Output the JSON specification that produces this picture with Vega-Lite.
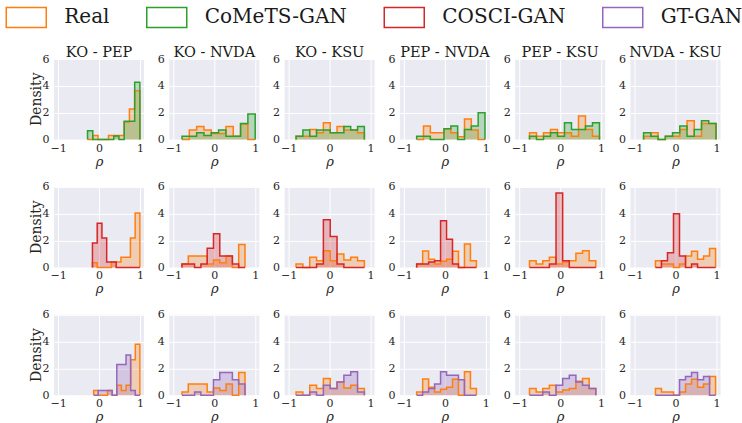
{
"$schema": "https://vega.github.io/schema/vega-lite/v6.json",
"padding": {"left": 15, "top": 6, "right": 0, "bottom": 0},
"background": "white",
"data": {"values": [
{"m":"CoMeTS-GAN","p":"KO - PEP","i":0,"a":-0.28,"b":-0.28,"Real":0,"CoMeTS-GAN":0},
{"m":"CoMeTS-GAN","p":"KO - PEP","i":1,"a":-0.28,"b":-0.152,"Real":0,"CoMeTS-GAN":0.66},
{"m":"CoMeTS-GAN","p":"KO - PEP","i":2,"a":-0.152,"b":-0.024,"Real":0.3,"CoMeTS-GAN":0},
{"m":"CoMeTS-GAN","p":"KO - PEP","i":3,"a":-0.024,"b":0.104,"Real":0,"CoMeTS-GAN":0},
{"m":"CoMeTS-GAN","p":"KO - PEP","i":4,"a":0.104,"b":0.232,"Real":0,"CoMeTS-GAN":0},
{"m":"CoMeTS-GAN","p":"KO - PEP","i":5,"a":0.232,"b":0.36,"Real":0.3,"CoMeTS-GAN":0},
{"m":"CoMeTS-GAN","p":"KO - PEP","i":6,"a":0.36,"b":0.488,"Real":0.3,"CoMeTS-GAN":0.26},
{"m":"CoMeTS-GAN","p":"KO - PEP","i":7,"a":0.488,"b":0.616,"Real":0.3,"CoMeTS-GAN":0},
{"m":"CoMeTS-GAN","p":"KO - PEP","i":8,"a":0.616,"b":0.744,"Real":1.3,"CoMeTS-GAN":1.36},
{"m":"CoMeTS-GAN","p":"KO - PEP","i":9,"a":0.744,"b":0.872,"Real":2.27,"CoMeTS-GAN":1.36},
{"m":"CoMeTS-GAN","p":"KO - PEP","i":10,"a":0.872,"b":1.0,"Real":3.64,"CoMeTS-GAN":4.27},
{"m":"CoMeTS-GAN","p":"KO - PEP","i":11,"a":1.0,"b":1.0,"Real":0,"CoMeTS-GAN":0},

{"m":"CoMeTS-GAN","p":"KO - NVDA","i":0,"a":-0.79,"b":-0.79,"Real":0,"CoMeTS-GAN":0},
{"m":"CoMeTS-GAN","p":"KO - NVDA","i":1,"a":-0.79,"b":-0.611,"Real":0,"CoMeTS-GAN":0.25},
{"m":"CoMeTS-GAN","p":"KO - NVDA","i":2,"a":-0.611,"b":-0.432,"Real":0.7,"CoMeTS-GAN":0.25},
{"m":"CoMeTS-GAN","p":"KO - NVDA","i":3,"a":-0.432,"b":-0.253,"Real":0.96,"CoMeTS-GAN":0.5},
{"m":"CoMeTS-GAN","p":"KO - NVDA","i":4,"a":-0.253,"b":-0.074,"Real":0.7,"CoMeTS-GAN":0.3},
{"m":"CoMeTS-GAN","p":"KO - NVDA","i":5,"a":-0.074,"b":0.105,"Real":0.45,"CoMeTS-GAN":0.5},
{"m":"CoMeTS-GAN","p":"KO - NVDA","i":6,"a":0.105,"b":0.284,"Real":0.45,"CoMeTS-GAN":0.7},
{"m":"CoMeTS-GAN","p":"KO - NVDA","i":7,"a":0.284,"b":0.463,"Real":0.96,"CoMeTS-GAN":0.25},
{"m":"CoMeTS-GAN","p":"KO - NVDA","i":8,"a":0.463,"b":0.642,"Real":0.25,"CoMeTS-GAN":0.25},
{"m":"CoMeTS-GAN","p":"KO - NVDA","i":9,"a":0.642,"b":0.821,"Real":1.15,"CoMeTS-GAN":1.2},
{"m":"CoMeTS-GAN","p":"KO - NVDA","i":10,"a":0.821,"b":1.0,"Real":0,"CoMeTS-GAN":1.9},
{"m":"CoMeTS-GAN","p":"KO - NVDA","i":11,"a":1.0,"b":1.0,"Real":0,"CoMeTS-GAN":0},

{"m":"CoMeTS-GAN","p":"KO - KSU","i":0,"a":-0.82,"b":-0.82,"Real":0,"CoMeTS-GAN":0},
{"m":"CoMeTS-GAN","p":"KO - KSU","i":1,"a":-0.82,"b":-0.653,"Real":0.25,"CoMeTS-GAN":0.25},
{"m":"CoMeTS-GAN","p":"KO - KSU","i":2,"a":-0.653,"b":-0.486,"Real":0.25,"CoMeTS-GAN":0.7},
{"m":"CoMeTS-GAN","p":"KO - KSU","i":3,"a":-0.486,"b":-0.319,"Real":0.75,"CoMeTS-GAN":0.25},
{"m":"CoMeTS-GAN","p":"KO - KSU","i":4,"a":-0.319,"b":-0.152,"Real":0.5,"CoMeTS-GAN":0.7},
{"m":"CoMeTS-GAN","p":"KO - KSU","i":5,"a":-0.152,"b":0.015,"Real":1.25,"CoMeTS-GAN":0.7},
{"m":"CoMeTS-GAN","p":"KO - KSU","i":6,"a":0.015,"b":0.182,"Real":0.5,"CoMeTS-GAN":0.5},
{"m":"CoMeTS-GAN","p":"KO - KSU","i":7,"a":0.182,"b":0.349,"Real":0.96,"CoMeTS-GAN":0.5},
{"m":"CoMeTS-GAN","p":"KO - KSU","i":8,"a":0.349,"b":0.516,"Real":0.7,"CoMeTS-GAN":0.96},
{"m":"CoMeTS-GAN","p":"KO - KSU","i":9,"a":0.516,"b":0.683,"Real":0.7,"CoMeTS-GAN":0.7},
{"m":"CoMeTS-GAN","p":"KO - KSU","i":10,"a":0.683,"b":0.85,"Real":0.5,"CoMeTS-GAN":0.96},
{"m":"CoMeTS-GAN","p":"KO - KSU","i":11,"a":0.85,"b":0.85,"Real":0,"CoMeTS-GAN":0},

{"m":"CoMeTS-GAN","p":"PEP - NVDA","i":0,"a":-0.69,"b":-0.69,"Real":0,"CoMeTS-GAN":0},
{"m":"CoMeTS-GAN","p":"PEP - NVDA","i":1,"a":-0.69,"b":-0.523,"Real":0,"CoMeTS-GAN":0.25},
{"m":"CoMeTS-GAN","p":"PEP - NVDA","i":2,"a":-0.523,"b":-0.356,"Real":1.0,"CoMeTS-GAN":0.25},
{"m":"CoMeTS-GAN","p":"PEP - NVDA","i":3,"a":-0.356,"b":-0.189,"Real":0.5,"CoMeTS-GAN":0},
{"m":"CoMeTS-GAN","p":"PEP - NVDA","i":4,"a":-0.189,"b":-0.022,"Real":0.5,"CoMeTS-GAN":0},
{"m":"CoMeTS-GAN","p":"PEP - NVDA","i":5,"a":-0.022,"b":0.145,"Real":0.8,"CoMeTS-GAN":0.8},
{"m":"CoMeTS-GAN","p":"PEP - NVDA","i":6,"a":0.145,"b":0.312,"Real":0.5,"CoMeTS-GAN":1.0},
{"m":"CoMeTS-GAN","p":"PEP - NVDA","i":7,"a":0.312,"b":0.479,"Real":0.2,"CoMeTS-GAN":0},
{"m":"CoMeTS-GAN","p":"PEP - NVDA","i":8,"a":0.479,"b":0.646,"Real":1.52,"CoMeTS-GAN":0.75},
{"m":"CoMeTS-GAN","p":"PEP - NVDA","i":9,"a":0.646,"b":0.813,"Real":0.7,"CoMeTS-GAN":1.0},
{"m":"CoMeTS-GAN","p":"PEP - NVDA","i":10,"a":0.813,"b":0.98,"Real":0,"CoMeTS-GAN":2.0},
{"m":"CoMeTS-GAN","p":"PEP - NVDA","i":11,"a":0.98,"b":0.98,"Real":0,"CoMeTS-GAN":0},

{"m":"CoMeTS-GAN","p":"PEP - KSU","i":0,"a":-0.75,"b":-0.75,"Real":0,"CoMeTS-GAN":0},
{"m":"CoMeTS-GAN","p":"PEP - KSU","i":1,"a":-0.75,"b":-0.579,"Real":0.5,"CoMeTS-GAN":0.25},
{"m":"CoMeTS-GAN","p":"PEP - KSU","i":2,"a":-0.579,"b":-0.408,"Real":0.25,"CoMeTS-GAN":0},
{"m":"CoMeTS-GAN","p":"PEP - KSU","i":3,"a":-0.408,"b":-0.237,"Real":0.5,"CoMeTS-GAN":0.25},
{"m":"CoMeTS-GAN","p":"PEP - KSU","i":4,"a":-0.237,"b":-0.066,"Real":0.75,"CoMeTS-GAN":0.5},
{"m":"CoMeTS-GAN","p":"PEP - KSU","i":5,"a":-0.066,"b":0.105,"Real":0.5,"CoMeTS-GAN":0.25},
{"m":"CoMeTS-GAN","p":"PEP - KSU","i":6,"a":0.105,"b":0.276,"Real":0.5,"CoMeTS-GAN":1.25},
{"m":"CoMeTS-GAN","p":"PEP - KSU","i":7,"a":0.276,"b":0.447,"Real":0.25,"CoMeTS-GAN":0.75},
{"m":"CoMeTS-GAN","p":"PEP - KSU","i":8,"a":0.447,"b":0.618,"Real":1.75,"CoMeTS-GAN":0.75},
{"m":"CoMeTS-GAN","p":"PEP - KSU","i":9,"a":0.618,"b":0.789,"Real":0.75,"CoMeTS-GAN":1.0},
{"m":"CoMeTS-GAN","p":"PEP - KSU","i":10,"a":0.789,"b":0.96,"Real":0.25,"CoMeTS-GAN":1.25},
{"m":"CoMeTS-GAN","p":"PEP - KSU","i":11,"a":0.96,"b":0.96,"Real":0,"CoMeTS-GAN":0},

{"m":"CoMeTS-GAN","p":"NVDA - KSU","i":0,"a":-0.78,"b":-0.78,"Real":0,"CoMeTS-GAN":0},
{"m":"CoMeTS-GAN","p":"NVDA - KSU","i":1,"a":-0.78,"b":-0.603,"Real":0.25,"CoMeTS-GAN":0.5},
{"m":"CoMeTS-GAN","p":"NVDA - KSU","i":2,"a":-0.603,"b":-0.426,"Real":0.5,"CoMeTS-GAN":0.25},
{"m":"CoMeTS-GAN","p":"NVDA - KSU","i":3,"a":-0.426,"b":-0.249,"Real":0,"CoMeTS-GAN":0},
{"m":"CoMeTS-GAN","p":"NVDA - KSU","i":4,"a":-0.249,"b":-0.072,"Real":0.25,"CoMeTS-GAN":0.25},
{"m":"CoMeTS-GAN","p":"NVDA - KSU","i":5,"a":-0.072,"b":0.105,"Real":0.25,"CoMeTS-GAN":0.5},
{"m":"CoMeTS-GAN","p":"NVDA - KSU","i":6,"a":0.105,"b":0.282,"Real":0.75,"CoMeTS-GAN":1.0},
{"m":"CoMeTS-GAN","p":"NVDA - KSU","i":7,"a":0.282,"b":0.459,"Real":1.4,"CoMeTS-GAN":0.25},
{"m":"CoMeTS-GAN","p":"NVDA - KSU","i":8,"a":0.459,"b":0.636,"Real":0.25,"CoMeTS-GAN":0.75},
{"m":"CoMeTS-GAN","p":"NVDA - KSU","i":9,"a":0.636,"b":0.813,"Real":1.2,"CoMeTS-GAN":1.4},
{"m":"CoMeTS-GAN","p":"NVDA - KSU","i":10,"a":0.813,"b":0.99,"Real":1.2,"CoMeTS-GAN":1.2},
{"m":"CoMeTS-GAN","p":"NVDA - KSU","i":11,"a":0.99,"b":0.99,"Real":0,"CoMeTS-GAN":0},

{"m":"COSCI-GAN","p":"KO - PEP","i":0,"a":-0.16,"b":-0.16,"Real":0,"COSCI-GAN":0},
{"m":"COSCI-GAN","p":"KO - PEP","i":1,"a":-0.16,"b":-0.044,"Real":0.35,"COSCI-GAN":1.82},
{"m":"COSCI-GAN","p":"KO - PEP","i":2,"a":-0.044,"b":0.072,"Real":0,"COSCI-GAN":3.3},
{"m":"COSCI-GAN","p":"KO - PEP","i":3,"a":0.072,"b":0.188,"Real":0,"COSCI-GAN":2.2},
{"m":"COSCI-GAN","p":"KO - PEP","i":4,"a":0.188,"b":0.304,"Real":0,"COSCI-GAN":0.4},
{"m":"COSCI-GAN","p":"KO - PEP","i":5,"a":0.304,"b":0.42,"Real":0.4,"COSCI-GAN":0.4},
{"m":"COSCI-GAN","p":"KO - PEP","i":6,"a":0.42,"b":0.536,"Real":0.4,"COSCI-GAN":0},
{"m":"COSCI-GAN","p":"KO - PEP","i":7,"a":0.536,"b":0.652,"Real":0.75,"COSCI-GAN":0},
{"m":"COSCI-GAN","p":"KO - PEP","i":8,"a":0.652,"b":0.768,"Real":0.75,"COSCI-GAN":0},
{"m":"COSCI-GAN","p":"KO - PEP","i":9,"a":0.768,"b":0.884,"Real":2.2,"COSCI-GAN":0},
{"m":"COSCI-GAN","p":"KO - PEP","i":10,"a":0.884,"b":1.0,"Real":4.05,"COSCI-GAN":0},
{"m":"COSCI-GAN","p":"KO - PEP","i":11,"a":1.0,"b":1.0,"Real":0,"COSCI-GAN":0},

{"m":"COSCI-GAN","p":"KO - NVDA","i":0,"a":-0.79,"b":-0.79,"Real":0,"COSCI-GAN":0},
{"m":"COSCI-GAN","p":"KO - NVDA","i":1,"a":-0.79,"b":-0.636,"Real":0.25,"COSCI-GAN":0.25},
{"m":"COSCI-GAN","p":"KO - NVDA","i":2,"a":-0.636,"b":-0.482,"Real":0.85,"COSCI-GAN":0.25},
{"m":"COSCI-GAN","p":"KO - NVDA","i":3,"a":-0.482,"b":-0.328,"Real":0.85,"COSCI-GAN":0},
{"m":"COSCI-GAN","p":"KO - NVDA","i":4,"a":-0.328,"b":-0.174,"Real":0.85,"COSCI-GAN":0.25},
{"m":"COSCI-GAN","p":"KO - NVDA","i":5,"a":-0.174,"b":-0.02,"Real":0.25,"COSCI-GAN":1.42},
{"m":"COSCI-GAN","p":"KO - NVDA","i":6,"a":-0.02,"b":0.134,"Real":0.55,"COSCI-GAN":2.5},
{"m":"COSCI-GAN","p":"KO - NVDA","i":7,"a":0.134,"b":0.288,"Real":0.35,"COSCI-GAN":0.85},
{"m":"COSCI-GAN","p":"KO - NVDA","i":8,"a":0.288,"b":0.442,"Real":0.85,"COSCI-GAN":0.85},
{"m":"COSCI-GAN","p":"KO - NVDA","i":9,"a":0.442,"b":0.596,"Real":0,"COSCI-GAN":0.25},
{"m":"COSCI-GAN","p":"KO - NVDA","i":10,"a":0.596,"b":0.75,"Real":1.7,"COSCI-GAN":0},
{"m":"COSCI-GAN","p":"KO - NVDA","i":11,"a":0.75,"b":0.75,"Real":0,"COSCI-GAN":0},

{"m":"COSCI-GAN","p":"KO - KSU","i":0,"a":-0.82,"b":-0.82,"Real":0,"COSCI-GAN":0},
{"m":"COSCI-GAN","p":"KO - KSU","i":1,"a":-0.82,"b":-0.653,"Real":0.25,"COSCI-GAN":0},
{"m":"COSCI-GAN","p":"KO - KSU","i":2,"a":-0.653,"b":-0.486,"Real":0,"COSCI-GAN":0},
{"m":"COSCI-GAN","p":"KO - KSU","i":3,"a":-0.486,"b":-0.319,"Real":0.75,"COSCI-GAN":0},
{"m":"COSCI-GAN","p":"KO - KSU","i":4,"a":-0.319,"b":-0.152,"Real":0.5,"COSCI-GAN":0.25},
{"m":"COSCI-GAN","p":"KO - KSU","i":5,"a":-0.152,"b":0.015,"Real":1.25,"COSCI-GAN":3.56},
{"m":"COSCI-GAN","p":"KO - KSU","i":6,"a":0.015,"b":0.182,"Real":0.5,"COSCI-GAN":2.3},
{"m":"COSCI-GAN","p":"KO - KSU","i":7,"a":0.182,"b":0.349,"Real":1.0,"COSCI-GAN":0.25},
{"m":"COSCI-GAN","p":"KO - KSU","i":8,"a":0.349,"b":0.516,"Real":0.55,"COSCI-GAN":0},
{"m":"COSCI-GAN","p":"KO - KSU","i":9,"a":0.516,"b":0.683,"Real":0.75,"COSCI-GAN":0},
{"m":"COSCI-GAN","p":"KO - KSU","i":10,"a":0.683,"b":0.85,"Real":0.5,"COSCI-GAN":0},
{"m":"COSCI-GAN","p":"KO - KSU","i":11,"a":0.85,"b":0.85,"Real":0,"COSCI-GAN":0},

{"m":"COSCI-GAN","p":"PEP - NVDA","i":0,"a":-0.69,"b":-0.69,"Real":0,"COSCI-GAN":0},
{"m":"COSCI-GAN","p":"PEP - NVDA","i":1,"a":-0.69,"b":-0.544,"Real":0.25,"COSCI-GAN":0.25},
{"m":"COSCI-GAN","p":"PEP - NVDA","i":2,"a":-0.544,"b":-0.398,"Real":1.22,"COSCI-GAN":0.25},
{"m":"COSCI-GAN","p":"PEP - NVDA","i":3,"a":-0.398,"b":-0.252,"Real":0.6,"COSCI-GAN":0.4},
{"m":"COSCI-GAN","p":"PEP - NVDA","i":4,"a":-0.252,"b":-0.106,"Real":0.25,"COSCI-GAN":0.5},
{"m":"COSCI-GAN","p":"PEP - NVDA","i":5,"a":-0.106,"b":0.04,"Real":0.45,"COSCI-GAN":3.48},
{"m":"COSCI-GAN","p":"PEP - NVDA","i":6,"a":0.04,"b":0.186,"Real":0.6,"COSCI-GAN":2.1},
{"m":"COSCI-GAN","p":"PEP - NVDA","i":7,"a":0.186,"b":0.332,"Real":1.2,"COSCI-GAN":0.25},
{"m":"COSCI-GAN","p":"PEP - NVDA","i":8,"a":0.332,"b":0.478,"Real":0,"COSCI-GAN":0},
{"m":"COSCI-GAN","p":"PEP - NVDA","i":9,"a":0.478,"b":0.624,"Real":1.75,"COSCI-GAN":0},
{"m":"COSCI-GAN","p":"PEP - NVDA","i":10,"a":0.624,"b":0.77,"Real":0.5,"COSCI-GAN":0},
{"m":"COSCI-GAN","p":"PEP - NVDA","i":11,"a":0.77,"b":0.77,"Real":0,"COSCI-GAN":0},

{"m":"COSCI-GAN","p":"PEP - KSU","i":0,"a":-0.75,"b":-0.75,"Real":0,"COSCI-GAN":0},
{"m":"COSCI-GAN","p":"PEP - KSU","i":1,"a":-0.75,"b":-0.588,"Real":0.5,"COSCI-GAN":0},
{"m":"COSCI-GAN","p":"PEP - KSU","i":2,"a":-0.588,"b":-0.426,"Real":0.25,"COSCI-GAN":0},
{"m":"COSCI-GAN","p":"PEP - KSU","i":3,"a":-0.426,"b":-0.264,"Real":0.5,"COSCI-GAN":0},
{"m":"COSCI-GAN","p":"PEP - KSU","i":4,"a":-0.264,"b":-0.102,"Real":0.75,"COSCI-GAN":0.25},
{"m":"COSCI-GAN","p":"PEP - KSU","i":5,"a":-0.102,"b":0.06,"Real":0.25,"COSCI-GAN":5.55},
{"m":"COSCI-GAN","p":"PEP - KSU","i":6,"a":0.06,"b":0.222,"Real":0.4,"COSCI-GAN":0.5},
{"m":"COSCI-GAN","p":"PEP - KSU","i":7,"a":0.222,"b":0.384,"Real":0.5,"COSCI-GAN":0},
{"m":"COSCI-GAN","p":"PEP - KSU","i":8,"a":0.384,"b":0.546,"Real":1.05,"COSCI-GAN":0},
{"m":"COSCI-GAN","p":"PEP - KSU","i":9,"a":0.546,"b":0.708,"Real":1.25,"COSCI-GAN":0},
{"m":"COSCI-GAN","p":"PEP - KSU","i":10,"a":0.708,"b":0.87,"Real":0.5,"COSCI-GAN":0},
{"m":"COSCI-GAN","p":"PEP - KSU","i":11,"a":0.87,"b":0.87,"Real":0,"COSCI-GAN":0},

{"m":"COSCI-GAN","p":"NVDA - KSU","i":0,"a":-0.49,"b":-0.49,"Real":0,"COSCI-GAN":0},
{"m":"COSCI-GAN","p":"NVDA - KSU","i":1,"a":-0.49,"b":-0.343,"Real":0.5,"COSCI-GAN":0},
{"m":"COSCI-GAN","p":"NVDA - KSU","i":2,"a":-0.343,"b":-0.196,"Real":0.25,"COSCI-GAN":0.5},
{"m":"COSCI-GAN","p":"NVDA - KSU","i":3,"a":-0.196,"b":-0.049,"Real":0.25,"COSCI-GAN":1.1},
{"m":"COSCI-GAN","p":"NVDA - KSU","i":4,"a":-0.049,"b":0.098,"Real":0,"COSCI-GAN":4.0},
{"m":"COSCI-GAN","p":"NVDA - KSU","i":5,"a":0.098,"b":0.245,"Real":0.25,"COSCI-GAN":0.85},
{"m":"COSCI-GAN","p":"NVDA - KSU","i":6,"a":0.245,"b":0.392,"Real":0.85,"COSCI-GAN":0},
{"m":"COSCI-GAN","p":"NVDA - KSU","i":7,"a":0.392,"b":0.539,"Real":1.2,"COSCI-GAN":0.25},
{"m":"COSCI-GAN","p":"NVDA - KSU","i":8,"a":0.539,"b":0.686,"Real":0.6,"COSCI-GAN":0},
{"m":"COSCI-GAN","p":"NVDA - KSU","i":9,"a":0.686,"b":0.833,"Real":0.85,"COSCI-GAN":0},
{"m":"COSCI-GAN","p":"NVDA - KSU","i":10,"a":0.833,"b":0.98,"Real":1.4,"COSCI-GAN":0},
{"m":"COSCI-GAN","p":"NVDA - KSU","i":11,"a":0.98,"b":0.98,"Real":0,"COSCI-GAN":0},

{"m":"GT-GAN","p":"KO - PEP","i":0,"a":-0.13,"b":-0.13,"Real":0,"GT-GAN":0},
{"m":"GT-GAN","p":"KO - PEP","i":1,"a":-0.13,"b":-0.017,"Real":0.35,"GT-GAN":0},
{"m":"GT-GAN","p":"KO - PEP","i":2,"a":-0.017,"b":0.096,"Real":0,"GT-GAN":0.35},
{"m":"GT-GAN","p":"KO - PEP","i":3,"a":0.096,"b":0.209,"Real":0,"GT-GAN":0.35},
{"m":"GT-GAN","p":"KO - PEP","i":4,"a":0.209,"b":0.322,"Real":0.35,"GT-GAN":0.35},
{"m":"GT-GAN","p":"KO - PEP","i":5,"a":0.322,"b":0.435,"Real":0,"GT-GAN":0},
{"m":"GT-GAN","p":"KO - PEP","i":6,"a":0.435,"b":0.548,"Real":0.75,"GT-GAN":2.3},
{"m":"GT-GAN","p":"KO - PEP","i":7,"a":0.548,"b":0.661,"Real":0.35,"GT-GAN":2.3},
{"m":"GT-GAN","p":"KO - PEP","i":8,"a":0.661,"b":0.774,"Real":0.75,"GT-GAN":3.0},
{"m":"GT-GAN","p":"KO - PEP","i":9,"a":0.774,"b":0.887,"Real":2.65,"GT-GAN":0.35},
{"m":"GT-GAN","p":"KO - PEP","i":10,"a":0.887,"b":1.0,"Real":3.8,"GT-GAN":0},
{"m":"GT-GAN","p":"KO - PEP","i":11,"a":1.0,"b":1.0,"Real":0,"GT-GAN":0},

{"m":"GT-GAN","p":"KO - NVDA","i":0,"a":-0.79,"b":-0.79,"Real":0,"GT-GAN":0},
{"m":"GT-GAN","p":"KO - NVDA","i":1,"a":-0.79,"b":-0.636,"Real":0.25,"GT-GAN":0},
{"m":"GT-GAN","p":"KO - NVDA","i":2,"a":-0.636,"b":-0.482,"Real":0.85,"GT-GAN":0},
{"m":"GT-GAN","p":"KO - NVDA","i":3,"a":-0.482,"b":-0.328,"Real":0.85,"GT-GAN":0.25},
{"m":"GT-GAN","p":"KO - NVDA","i":4,"a":-0.328,"b":-0.174,"Real":0.85,"GT-GAN":0},
{"m":"GT-GAN","p":"KO - NVDA","i":5,"a":-0.174,"b":-0.02,"Real":0.25,"GT-GAN":0},
{"m":"GT-GAN","p":"KO - NVDA","i":6,"a":-0.02,"b":0.134,"Real":0.55,"GT-GAN":1.15},
{"m":"GT-GAN","p":"KO - NVDA","i":7,"a":0.134,"b":0.288,"Real":0.35,"GT-GAN":1.7},
{"m":"GT-GAN","p":"KO - NVDA","i":8,"a":0.288,"b":0.442,"Real":0.85,"GT-GAN":1.7},
{"m":"GT-GAN","p":"KO - NVDA","i":9,"a":0.442,"b":0.596,"Real":0,"GT-GAN":1.15},
{"m":"GT-GAN","p":"KO - NVDA","i":10,"a":0.596,"b":0.75,"Real":1.7,"GT-GAN":0.85},
{"m":"GT-GAN","p":"KO - NVDA","i":11,"a":0.75,"b":0.75,"Real":0,"GT-GAN":0},

{"m":"GT-GAN","p":"KO - KSU","i":0,"a":-0.82,"b":-0.82,"Real":0,"GT-GAN":0},
{"m":"GT-GAN","p":"KO - KSU","i":1,"a":-0.82,"b":-0.653,"Real":0.25,"GT-GAN":0},
{"m":"GT-GAN","p":"KO - KSU","i":2,"a":-0.653,"b":-0.486,"Real":0,"GT-GAN":0},
{"m":"GT-GAN","p":"KO - KSU","i":3,"a":-0.486,"b":-0.319,"Real":0.75,"GT-GAN":0.25},
{"m":"GT-GAN","p":"KO - KSU","i":4,"a":-0.319,"b":-0.152,"Real":0.5,"GT-GAN":0},
{"m":"GT-GAN","p":"KO - KSU","i":5,"a":-0.152,"b":0.015,"Real":1.25,"GT-GAN":0.75},
{"m":"GT-GAN","p":"KO - KSU","i":6,"a":0.015,"b":0.182,"Real":0.5,"GT-GAN":0.5},
{"m":"GT-GAN","p":"KO - KSU","i":7,"a":0.182,"b":0.349,"Real":1.0,"GT-GAN":1.0},
{"m":"GT-GAN","p":"KO - KSU","i":8,"a":0.349,"b":0.516,"Real":0.55,"GT-GAN":1.5},
{"m":"GT-GAN","p":"KO - KSU","i":9,"a":0.516,"b":0.683,"Real":0.75,"GT-GAN":1.75},
{"m":"GT-GAN","p":"KO - KSU","i":10,"a":0.683,"b":0.85,"Real":0.5,"GT-GAN":0.25},
{"m":"GT-GAN","p":"KO - KSU","i":11,"a":0.85,"b":0.85,"Real":0,"GT-GAN":0},

{"m":"GT-GAN","p":"PEP - NVDA","i":0,"a":-0.69,"b":-0.69,"Real":0,"GT-GAN":0},
{"m":"GT-GAN","p":"PEP - NVDA","i":1,"a":-0.69,"b":-0.544,"Real":0.25,"GT-GAN":0},
{"m":"GT-GAN","p":"PEP - NVDA","i":2,"a":-0.544,"b":-0.398,"Real":1.22,"GT-GAN":0.25},
{"m":"GT-GAN","p":"PEP - NVDA","i":3,"a":-0.398,"b":-0.252,"Real":0.6,"GT-GAN":0.5},
{"m":"GT-GAN","p":"PEP - NVDA","i":4,"a":-0.252,"b":-0.106,"Real":0.25,"GT-GAN":0.85},
{"m":"GT-GAN","p":"PEP - NVDA","i":5,"a":-0.106,"b":0.04,"Real":0.45,"GT-GAN":1.75},
{"m":"GT-GAN","p":"PEP - NVDA","i":6,"a":0.04,"b":0.186,"Real":0.6,"GT-GAN":1.5},
{"m":"GT-GAN","p":"PEP - NVDA","i":7,"a":0.186,"b":0.332,"Real":1.2,"GT-GAN":1.5},
{"m":"GT-GAN","p":"PEP - NVDA","i":8,"a":0.332,"b":0.478,"Real":0,"GT-GAN":1.15},
{"m":"GT-GAN","p":"PEP - NVDA","i":9,"a":0.478,"b":0.624,"Real":1.75,"GT-GAN":0},
{"m":"GT-GAN","p":"PEP - NVDA","i":10,"a":0.624,"b":0.77,"Real":0.5,"GT-GAN":0},
{"m":"GT-GAN","p":"PEP - NVDA","i":11,"a":0.77,"b":0.77,"Real":0,"GT-GAN":0},

{"m":"GT-GAN","p":"PEP - KSU","i":0,"a":-0.75,"b":-0.75,"Real":0,"GT-GAN":0},
{"m":"GT-GAN","p":"PEP - KSU","i":1,"a":-0.75,"b":-0.588,"Real":0.5,"GT-GAN":0},
{"m":"GT-GAN","p":"PEP - KSU","i":2,"a":-0.588,"b":-0.426,"Real":0.25,"GT-GAN":0},
{"m":"GT-GAN","p":"PEP - KSU","i":3,"a":-0.426,"b":-0.264,"Real":0.5,"GT-GAN":0.25},
{"m":"GT-GAN","p":"PEP - KSU","i":4,"a":-0.264,"b":-0.102,"Real":0.75,"GT-GAN":0},
{"m":"GT-GAN","p":"PEP - KSU","i":5,"a":-0.102,"b":0.06,"Real":0.25,"GT-GAN":0.75},
{"m":"GT-GAN","p":"PEP - KSU","i":6,"a":0.06,"b":0.222,"Real":0.4,"GT-GAN":1.25},
{"m":"GT-GAN","p":"PEP - KSU","i":7,"a":0.222,"b":0.384,"Real":0.5,"GT-GAN":1.5},
{"m":"GT-GAN","p":"PEP - KSU","i":8,"a":0.384,"b":0.546,"Real":1.05,"GT-GAN":1.0},
{"m":"GT-GAN","p":"PEP - KSU","i":9,"a":0.546,"b":0.708,"Real":1.25,"GT-GAN":0.75},
{"m":"GT-GAN","p":"PEP - KSU","i":10,"a":0.708,"b":0.87,"Real":0.5,"GT-GAN":0.5},
{"m":"GT-GAN","p":"PEP - KSU","i":11,"a":0.87,"b":0.87,"Real":0,"GT-GAN":0},

{"m":"GT-GAN","p":"NVDA - KSU","i":0,"a":-0.49,"b":-0.49,"Real":0,"GT-GAN":0},
{"m":"GT-GAN","p":"NVDA - KSU","i":1,"a":-0.49,"b":-0.343,"Real":0.5,"GT-GAN":0},
{"m":"GT-GAN","p":"NVDA - KSU","i":2,"a":-0.343,"b":-0.196,"Real":0.25,"GT-GAN":0},
{"m":"GT-GAN","p":"NVDA - KSU","i":3,"a":-0.196,"b":-0.049,"Real":0.25,"GT-GAN":0},
{"m":"GT-GAN","p":"NVDA - KSU","i":4,"a":-0.049,"b":0.098,"Real":0,"GT-GAN":0},
{"m":"GT-GAN","p":"NVDA - KSU","i":5,"a":0.098,"b":0.245,"Real":0.25,"GT-GAN":1.15},
{"m":"GT-GAN","p":"NVDA - KSU","i":6,"a":0.245,"b":0.392,"Real":0.85,"GT-GAN":1.4},
{"m":"GT-GAN","p":"NVDA - KSU","i":7,"a":0.392,"b":0.539,"Real":1.2,"GT-GAN":1.7},
{"m":"GT-GAN","p":"NVDA - KSU","i":8,"a":0.539,"b":0.686,"Real":0.6,"GT-GAN":1.15},
{"m":"GT-GAN","p":"NVDA - KSU","i":9,"a":0.686,"b":0.833,"Real":0.85,"GT-GAN":1.4},
{"m":"GT-GAN","p":"NVDA - KSU","i":10,"a":0.833,"b":0.98,"Real":1.4,"GT-GAN":0},
{"m":"GT-GAN","p":"NVDA - KSU","i":11,"a":0.98,"b":0.98,"Real":0,"GT-GAN":0}
]},
"transform": [
{"fold": ["Real", "CoMeTS-GAN", "COSCI-GAN", "GT-GAN"], "as": ["s", "d"]},
{"filter": "isValid(datum.d)"},
{"fold": ["a", "b"], "as": ["k", "x"]}
],
"bounds": "flush",
"facet": {
"row": {"field": "m", "type": "nominal", "sort": ["CoMeTS-GAN", "COSCI-GAN", "GT-GAN"],
"header": {"title": null, "labelExpr": "'Density'", "labelAngle": -90, "labelOrient": "left", "labelFont": "DejaVu Serif", "labelFontSize": 14, "labelColor": "#262626", "labelPadding": 3.5}},
"column": {"field": "p", "type": "nominal", "sort": ["KO - PEP", "KO - NVDA", "KO - KSU", "PEP - NVDA", "PEP - KSU", "NVDA - KSU"],
"header": {"title": null, "labelFont": "DejaVu Serif", "labelFontSize": 14.5, "labelColor": "#1a1a1a", "labelBaseline": "alphabetic", "labelPadding": -12}}
},
"spacing": {"row": 46.9, "column": 25.3},
"resolve": {"axis": {"x": "independent", "y": "independent"}},
"spec": {
"width": 90,
"height": 80.5,
"encoding": {
"x": {"field": "x", "type": "quantitative", "scale": {"domain": [-1.1, 1.1], "nice": false},
"axis": {"values": [-1, 0, 1], "title": "ρ", "format": "d"}},
"y": {"field": "d", "type": "quantitative", "stack": null, "scale": {"domain": [0, 6], "nice": false},
"axis": {"values": [0, 2, 4, 6], "title": null}},
"order": [{"field": "i", "type": "quantitative"}, {"field": "k", "type": "nominal"}]
},
"layer": [
{"mark": {"type": "area", "fillOpacity": 0.27},
"encoding": {"fill": {"field": "s", "type": "nominal",
"scale": {"domain": ["GT-GAN", "COSCI-GAN", "CoMeTS-GAN", "Real"], "range": ["#9467bd", "#d62728", "#2ca02c", "#ff7f0e"]},
"legend": null}}},
{"mark": {"type": "line", "strokeWidth": 1.5},
"encoding": {"stroke": {"field": "s", "type": "nominal",
"scale": {"domain": ["Real", "CoMeTS-GAN", "COSCI-GAN", "GT-GAN"], "range": ["#ff7f0e", "#2ca02c", "#d62728", "#9467bd"]},
"legend": {"orient": "none", "legendX": -38.75, "legendY": -52.6, "direction": "horizontal", "title": null,
"symbolType": "M-2,-1H2V1H-2Z", "symbolSize": 400, "symbolStrokeWidth": 1.5, "symbolFillColor": "white",
"labelFont": "DejaVu Serif", "labelFontSize": 20, "labelOffset": 27, "columnPadding": 33.5, "labelColor": "#1a1a1a",
"encode": {"symbols": {"update": {"fill": {"value": "white"}, "fillOpacity": {"value": 1}, "opacity": {"value": 1}, "strokeWidth": {"value": 1.5}}}}}}}}
]
},
"config": {
"view": {"fill": "#EAEAF2", "stroke": null},
"axis": {"labelFont": "DejaVu Serif", "labelFontSize": 11, "labelColor": "#262626", "ticks": false, "domain": false,
"grid": true, "gridColor": "white", "gridWidth": 1, "gridOpacity": 1,
"titleFont": "DejaVu Serif", "titleFontSize": 13, "titleFontStyle": "italic", "titleFontWeight": "normal", "titleColor": "#262626"},
"axisX": {"labelPadding": 2.5, "titlePadding": 2},
"axisY": {"labelPadding": 5}
}
}
